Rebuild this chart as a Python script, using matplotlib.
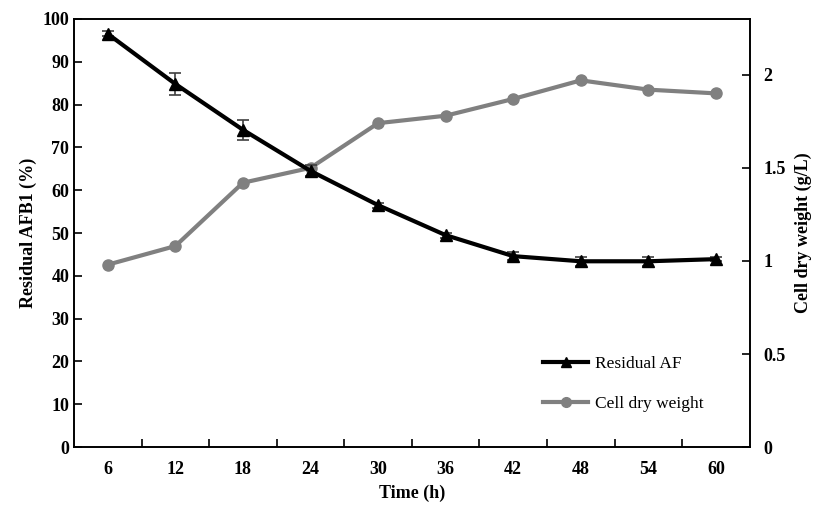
import numpy as np
import matplotlib
matplotlib.use('Agg')
import matplotlib.pyplot as plt
from matplotlib.lines import Line2D

time_h = [6, 12, 18, 24, 30, 36, 42, 48, 54, 60]
residual_af = [96.5, 84.8, 74.1, 64.5, 56.5, 49.5, 44.6, 43.4, 43.4, 43.9]
residual_err = [0.6, 2.5, 2.4, 1.3, 0.6, 0.6, 1.0, 1.0, 1.0, 0.5]
cell_dw = [0.98, 1.08, 1.42, 1.50, 1.74, 1.78, 1.87, 1.97, 1.92, 1.90]

plt.rcParams['font.family'] = ['Liberation Serif', 'DejaVu Serif']

fig = plt.figure(figsize=(8.18, 5.11), dpi=100)
ax = fig.add_axes([0.0905, 0.125, 0.826, 0.838])
ax2 = ax.twinx()

ax.errorbar(time_h, residual_af, yerr=residual_err, color='black', lw=3,
            marker='^', ms=8, ecolor='#404040', elinewidth=1.2, capsize=4,
            capthick=1.2, zorder=3)
ax2.plot(time_h, cell_dw, color='#808080', lw=3, marker='o', ms=8, zorder=2)

ax.set_zorder(ax2.get_zorder() + 1)
ax.patch.set_visible(False)

ax.set_xlim(3, 63)
ax.set_ylim(0, 100)
ax2.set_ylim(0, 2.3)
ax.set_xticks(time_h)
ax.set_xticks(np.arange(9, 60, 6), minor=True)
ax.tick_params(axis='x', which='major', length=0, pad=10)
ax.tick_params(axis='x', which='minor', direction='in', length=6, width=1.2)
ax.set_yticks(np.arange(0, 101, 10))
ax.tick_params(axis='y', direction='in', length=6, width=1.2)
ax2.set_yticks([0, 0.5, 1, 1.5, 2])
ax2.set_yticklabels(['0', '0.5', '1', '1.5', '2'])
ax2.tick_params(axis='y', direction='in', length=6, width=1.2, pad=10)

for a in (ax, ax2):
    for lab in a.get_xticklabels() + a.get_yticklabels():
        lab.set_fontsize(13)
        lab.set_fontweight('bold')
    for s in a.spines.values():
        s.set_linewidth(1.2)

ax.set_xlabel('Time (h)', fontsize=13, fontweight='bold', labelpad=5)
ax.set_ylabel('Residual AFB1 (%)', fontsize=13, fontweight='bold', labelpad=4)
ax2.set_ylabel('Cell dry weight (g/L)', fontsize=13, fontweight='bold', labelpad=6)

h1 = Line2D([], [], color='black', lw=3, marker='^', ms=7)
h2 = Line2D([], [], color='#808080', lw=3, marker='o', ms=7)
ax.legend([h1, h2], ['Residual AF', 'Cell dry weight'], loc='lower right',
          bbox_to_anchor=(0.955, 0.045), frameon=False, fontsize=12.5,
          handlelength=2.6, handletextpad=0.4, labelspacing=1.4)

fig.savefig('out.png', dpi=100)
